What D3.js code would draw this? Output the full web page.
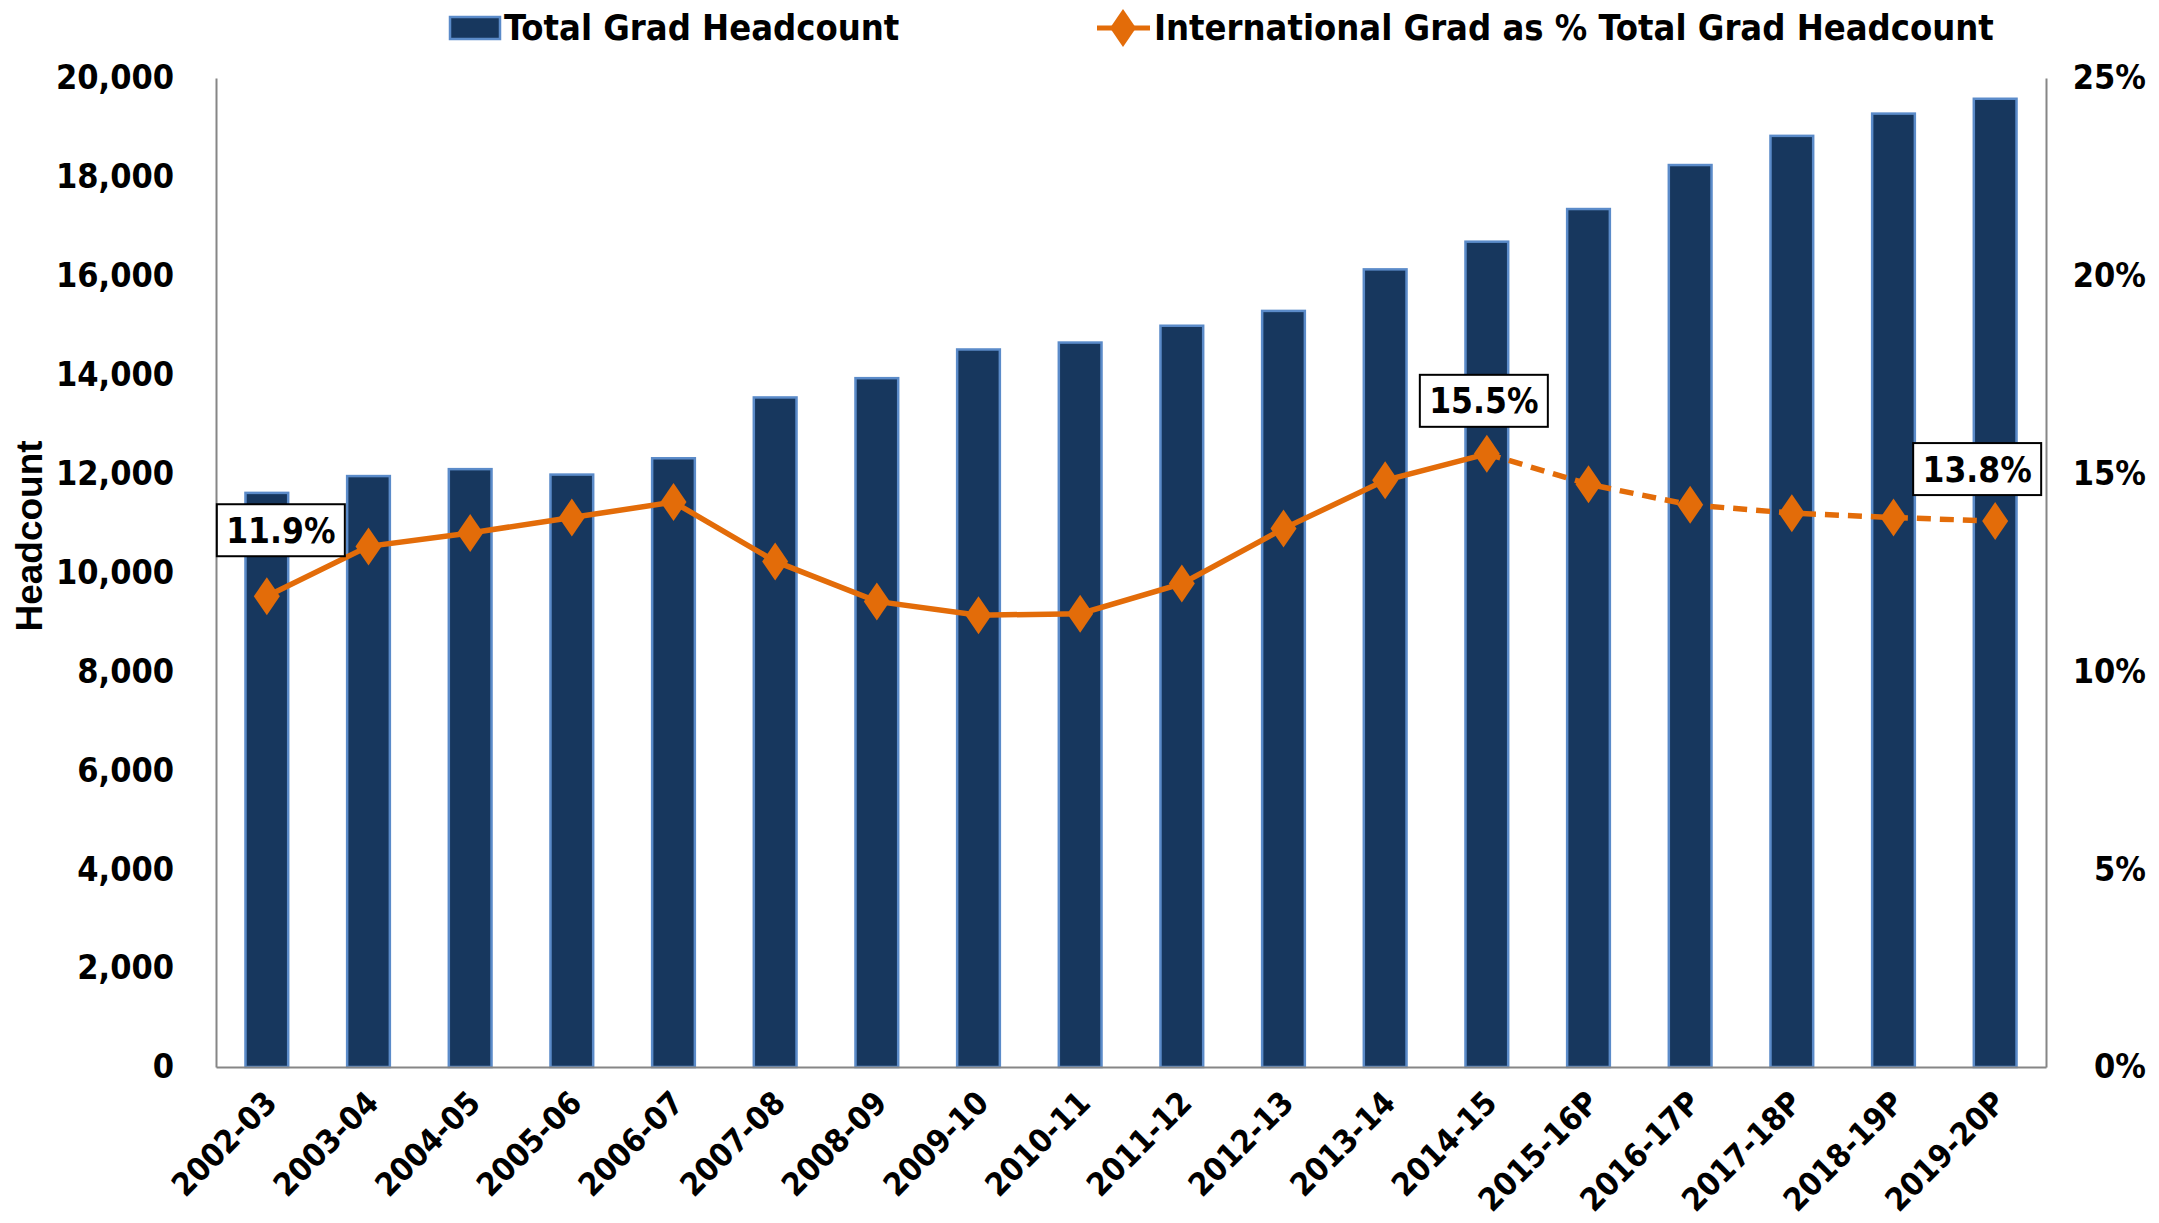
<!DOCTYPE html>
<meta charset="utf-8">
<script src="https://cdn.jsdelivr.net/npm/d3@7"></script>
<style>
    body {
        margin: 0;
        background: #fff;
    }
    text {
        font-family: "Liberation Sans Narrow", "DejaVu Sans Condensed", sans-serif;
        font-weight: bold;
        fill: #000;
    }
    .axis path {
        stroke: #868686;
        stroke-width: 2;
    }
    .axis line {
        display: none;
    }
    .bar {
        fill: #17375e;
        stroke: #5b8bc9;
        stroke-width: 2.5;
    }
    .pct-line {
        fill: none;
        stroke: #e36c09;
        stroke-width: 5.5;
    }
    .marker {
        fill: #e36c09;
    }
</style>
<body>
<svg width="2159" height="1223" class="chart"></svg>
</body>

<script>
    const years = ['2002-03', '2003-04', '2004-05', '2005-06', '2006-07', '2007-08',
        '2008-09', '2009-10', '2010-11', '2011-12', '2012-13', '2013-14', '2014-15',
        '2015-16P', '2016-17P', '2017-18P', '2018-19P', '2019-20P'];
    const headcount = [11610, 11950, 12090, 11980, 12310, 13540, 13930, 14510, 14650,
        14990, 15290, 16130, 16690, 17350, 18240, 18830, 19280, 19580];
    const intlPct = [11.9, 13.16, 13.5, 13.89, 14.28, 12.78, 11.77, 11.42, 11.46,
        12.22, 13.61, 14.83, 15.5, 14.73, 14.21, 14.0, 13.89, 13.8];
    const projectedFrom = 12; // index of last actual year, dashed after it
    const leftTicks = d3.range(0, 20001, 2000);
    const rightTicks = [0, 5, 10, 15, 20, 25];
    const labelled = [0, 12, 17];

    const margin = { top: 78, right: 113, bottom: 156, left: 216 },
        width = 2159 - margin.left - margin.right,
        height = 1223 - margin.top - margin.bottom;

    const svg = d3.select('.chart');
    const g = svg.append('g')
        .attr('transform', 'translate(' + margin.left + ',' + margin.top + ')');

    const x = d3.scaleBand().domain(years).range([0, width]).paddingInner(0.58).paddingOuter(0.29);
    const y = d3.scaleLinear().domain([0, 20000]).range([height, 0]);
    const y2 = d3.scaleLinear().domain([0, 25]).range([height, 0]);
    const cx = d => x(d) + x.bandwidth() / 2;

    // bars
    g.selectAll('.bar')
        .data(years)
        .enter()
        .append('rect')
        .attr('class', 'bar')
        .attr('x', d => x(d))
        .attr('y', (d, i) => y(headcount[i]))
        .attr('width', x.bandwidth())
        .attr('height', (d, i) => height - y(headcount[i]));

    // axes
    const leftAxis = g.append('g')
        .attr('class', 'axis')
        .call(d3.axisLeft(y).tickValues(leftTicks).tickFormat(d3.format(',')).tickSizeOuter(0).tickPadding(36));
    leftAxis.selectAll('text').style('font-size', '34px');

    const rightAxis = g.append('g')
        .attr('class', 'axis')
        .attr('transform', 'translate(' + width + ',0)')
        .call(d3.axisRight(y2).tickValues(rightTicks).tickFormat(d => d + '%').tickSizeOuter(0).tickPadding(0));
    rightAxis.selectAll('text')
        .style('font-size', '34px')
        .attr('text-anchor', 'end')
        .attr('x', 100);

    const bottomAxis = g.append('g')
        .attr('class', 'axis')
        .attr('transform', 'translate(0,' + height + ')')
        .call(d3.axisBottom(x).tickSizeOuter(0));
    bottomAxis.selectAll('text')
        .style('font-size', '32px')
        .attr('text-anchor', 'end')
        .attr('dy', '0.35em')
        .attr('transform', 'translate(4,30) rotate(-45)')
        .attr('y', 0)
        .attr('x', 0);

    g.append('text')
        .attr('transform', 'translate(' + (-174) + ',' + 458 + ') rotate(-90)')
        .attr('text-anchor', 'middle')
        .style('font-family', '"Liberation Sans", Arial, sans-serif')
        .style('font-size', '37px')
        .text('Headcount');

    // line
    const pts = years.map((d, i) => ({ year: d, v: intlPct[i] }));
    const line = d3.line().x(d => cx(d.year)).y(d => y2(d.v));

    g.append('path')
        .attr('class', 'pct-line')
        .attr('d', line(pts.slice(0, projectedFrom + 1)));
    g.append('path')
        .attr('class', 'pct-line')
        .attr('stroke-dasharray', '14,9')
        .attr('d', line(pts.slice(projectedFrom)));

    const diamond = 'M0,-19L13,0L0,19L-13,0Z';
    g.selectAll('.marker')
        .data(pts)
        .enter()
        .append('path')
        .attr('class', 'marker')
        .attr('d', diamond)
        .attr('transform', d => 'translate(' + cx(d.year) + ',' + y2(d.v) + ')');

    // data labels
    const labelOffset = { 0: [14, -66], 12: [-3, -53], 17: [-18, -52] };
    labelled.forEach(i => {
        const p = pts[i];
        const lx = cx(p.year) + labelOffset[i][0];
        const ly = y2(p.v) + labelOffset[i][1];
        const lbl = g.append('g').attr('transform', 'translate(' + lx + ',' + ly + ')');
        lbl.append('rect')
            .attr('x', -64).attr('y', -26)
            .attr('width', 128).attr('height', 52)
            .attr('fill', '#fff')
            .attr('stroke', '#000')
            .attr('stroke-width', 2);
        lbl.append('text')
            .attr('text-anchor', 'middle')
            .attr('dy', '0.36em')
            .style('font-size', '35px')
            .text(p.v.toFixed(1) + '%');
    });

    // legend
    const legend = svg.append('g');
    legend.append('rect')
        .attr('class', 'bar')
        .attr('x', 450).attr('y', 17)
        .attr('width', 50).attr('height', 22);
    legend.append('text')
        .attr('x', 504).attr('y', 40)
        .style('font-size', '36px')
        .text('Total Grad Headcount');

    legend.append('line')
        .attr('x1', 1097).attr('x2', 1150)
        .attr('y1', 28).attr('y2', 28)
        .attr('stroke', '#e36c09')
        .attr('stroke-width', 5);
    legend.append('path')
        .attr('class', 'marker')
        .attr('d', diamond)
        .attr('transform', 'translate(1123,28)');
    legend.append('text')
        .attr('x', 1154).attr('y', 40)
        .style('font-size', '36px')
        .text('International Grad as % Total Grad Headcount');
</script>
